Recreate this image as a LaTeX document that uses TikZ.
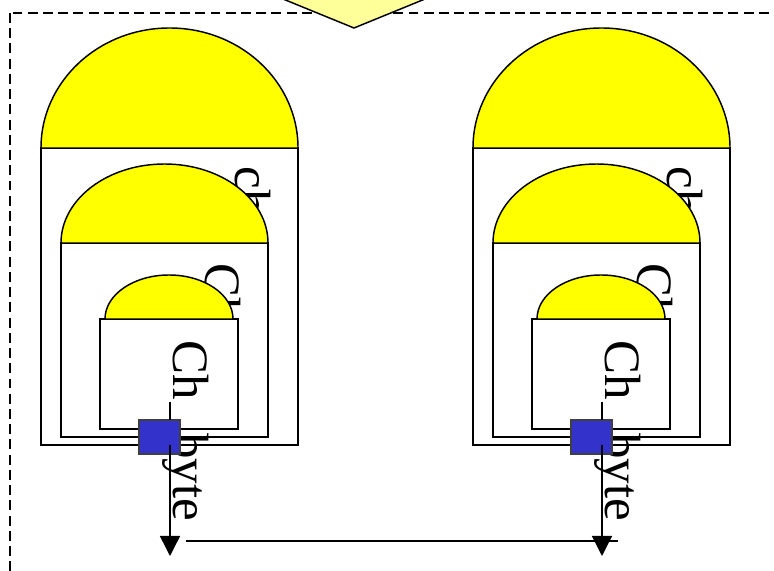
\documentclass[tikz,border=0pt]{standalone}
\usepackage{fontspec}
\setmainfont{Liberation Serif}
\usepackage{tikz}
\usetikzlibrary{arrows.meta,positioning,calc}
\usepackage{xcolor}
\definecolor{domeyellow}{HTML}{FFFF00}
\definecolor{paleyellow}{HTML}{FFFF99}
\definecolor{portblue}{HTML}{3333CC}

\begin{document}
\begin{tikzpicture}[x=0.03cm,y=-0.03cm,>={Triangle[length=6mm,width=6mm]},line width=1.25pt,every node/.style={inner sep=0pt,outer sep=0pt}]
\tikzstyle{dome}=[draw,fill=domeyellow]
\tikzstyle{box}=[draw,fill=white,anchor=north west]
\tikzstyle{lbl}=[rotate=-90,anchor=base west,font=\fontsize{43.5}{46}\selectfont]
\tikzstyle{port}=[draw=black!75,fill=portblue,minimum width=1.23cm,minimum height=1.02cm,anchor=north west]
\useasboundingbox (0,0) rectangle (774,571);
\draw[dash pattern=on 8.5pt off 4.5pt] (10,13) rectangle (800,600);
% incoming arrow
\draw[fill=paleyellow] (327,-30) -- (327,-1) -- (283,-1) -- (354,28) -- (425,-1) -- (389,-1) -- (389,-30);
% left unit
\node[box,minimum width=7.71cm,minimum height=8.91cm] (Louter) at (41,148) {};
\draw[dome] (Louter.north west) arc[start angle=180,end angle=0,x radius=3.855cm,y radius=3.6cm] -- cycle;
\node[lbl] (Ltxtouter) at (235,167) {ch};
\node[box,minimum width=6.21cm,minimum height=5.82cm] (Lmid) at (61,243) {};
\draw[dome] (Lmid.north west) arc[start angle=180,end angle=0,x radius=3.105cm,y radius=2.37cm] -- cycle;
\node[lbl] (Ltxtmid) at (205,264) {Ch};
\node[box,minimum width=4.14cm,minimum height=3.3cm] (Linner) at (100,319) {};
\draw[dome] ($(Linner.north west)+(5,0)$) arc[start angle=180,end angle=0,x radius=1.92cm,y radius=1.32cm] -- cycle;
\node[lbl] (Ltxtinner) at (173,341) {Ch\hspace{0.64em}byte};
\node[port] (Lport) at (139,420) {};
\coordinate (Ltap) at (170,402);
\coordinate (Lsrc) at (170,445);
\coordinate (Lsink) at (170,556);
\draw (Ltap) -- (Ltap |- Lport.north);
\draw[->] (Lsrc) -- (Lsink);
% right unit
\node[box,minimum width=7.71cm,minimum height=8.91cm] (Router) at (473,148) {};
\draw[dome] (Router.north west) arc[start angle=180,end angle=0,x radius=3.855cm,y radius=3.6cm] -- cycle;
\node[lbl] (Rtxtouter) at (667,167) {ch};
\node[box,minimum width=6.21cm,minimum height=5.82cm] (Rmid) at (493,243) {};
\draw[dome] (Rmid.north west) arc[start angle=180,end angle=0,x radius=3.105cm,y radius=2.37cm] -- cycle;
\node[lbl] (Rtxtmid) at (637,264) {Ch};
\node[box,minimum width=4.14cm,minimum height=3.3cm] (Rinner) at (532,319) {};
\draw[dome] ($(Rinner.north west)+(5,0)$) arc[start angle=180,end angle=0,x radius=1.92cm,y radius=1.32cm] -- cycle;
\node[lbl] (Rtxtinner) at (605,341) {Ch\hspace{0.64em}byte};
\node[port] (Rport) at (571,420) {};
\coordinate (Rtap) at (602,402);
\coordinate (Rsrc) at (602,445);
\coordinate (Rsink) at (602,556);
\draw (Rtap) -- (Rtap |- Rport.north);
\draw[->] (Rsrc) -- (Rsink);
% link between the units
\coordinate (busL) at (186,541);
\coordinate (busR) at (618,541);
\draw (busL) -- (busR);
\end{tikzpicture}
\end{document}
